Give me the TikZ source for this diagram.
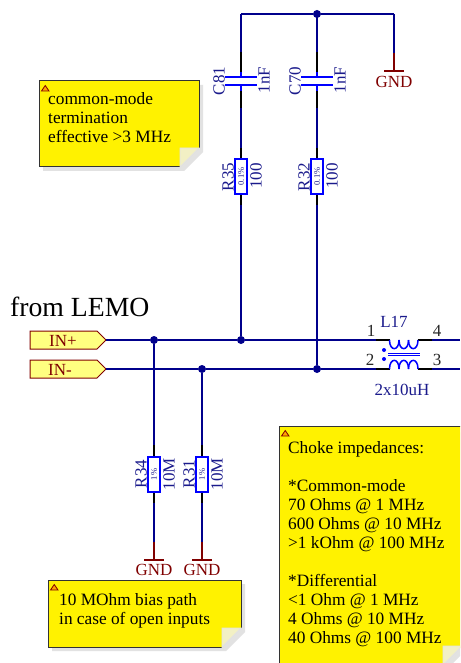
\documentclass[tikz,border=0pt]{standalone}
\usepackage{fontspec}
\setmainfont{Liberation Serif}
\definecolor{wirec}{HTML}{00008C}
\definecolor{compc}{HTML}{0000FF}
\definecolor{labc}{HTML}{1A1A8C}
\definecolor{gndc}{HTML}{800000}
\definecolor{portc}{HTML}{FFFF80}
\definecolor{foldc}{HTML}{F2F0C4}
\definecolor{shadc}{HTML}{E2E2E2}
\tikzset{
  wire/.style={draw=wirec,line width=1.7pt},
  pin/.style={draw=black,line width=1.7pt},
  stub/.style={draw=compc,line width=1.5pt},
  plate/.style={draw=compc,line width=1.8pt},
  gndw/.style={draw=gndc,line width=1.6pt},
  dot/.style={circle,fill=wirec,draw=none,inner sep=0pt,minimum size=8pt},
  res/.style={draw=compc,line width=1.9pt,fill=white,rectangle,inner sep=0pt,rotate=90,minimum width=35pt,minimum height=12pt,text=labc,font=\fontsize{8.5}{9}\selectfont},
  lab/.style={text=labc,font=\fontsize{17}{19}\selectfont,inner sep=0pt},
  vlab/.style={lab,rotate=90},
  pnum/.style={text=black!85,font=\fontsize{17}{19}\selectfont,inner sep=0pt},
  gndt/.style={text=gndc,font=\fontsize{17}{19}\selectfont,inner sep=0pt},
  port/.style={draw=gndc,fill=portc,line width=1pt},
  porttext/.style={text=gndc,font=\fontsize{17}{19}\selectfont,inner sep=0pt},
  notetext/.style={text=black,font=\fontsize{17.3}{19}\selectfont,inner sep=0pt,align=left,anchor=north west},
}
\newcommand{\notepaper}[4]{%
  \fill[shadc] (#1+4,#4) -- (#1+4,#4+4) -- (#3-15,#4+4) -- (#3+4,#4-15) -- (#3+4,#2+4) -- (#3,#2+4) -- cycle;
  \fill[yellow] (#1,#2) -- (#3,#2) -- (#3,#4-19) -- (#3-19,#4) -- (#1,#4) -- cycle;
  \draw[black!80,line width=1pt] (#3,#4-19) -- (#3,#2) -- (#1,#2) -- (#1,#4) -- (#3-19,#4);
  \fill[foldc,draw=shadc,line width=.8pt] (#3-19,#4) -- (#3-19,#4-19) -- (#3,#4-19) -- cycle;
  \draw[gndc,fill=orange!70!yellow,line width=.8pt] (#1+2.5,#2+10) -- (#1+10,#2+10) -- (#1+6.25,#2+4.5) -- cycle;
}
\begin{document}
\begin{tikzpicture}[x=1pt,y=-1pt]
\useasboundingbox (0,0) rectangle (460,663);
\clip (0,0) rectangle (460,663);
\fill[white] (0,0) rectangle (460,663);

% sticky notes
\notepaper{39}{81}{199}{167}
\notepaper{48}{580}{241}{647}
\notepaper{279}{426}{462}{665}
\node[notetext] (n1) at (48,92) {common-mode\\termination\\effective >3 MHz};
\node[notetext] (n2) at (59,593) {10 MOhm bias path\\in case of open inputs};
\node[notetext] (n3) at (288,441) {Choke impedances:\\[0pt]\mbox{}\\*Common-mode\\70 Ohms @ 1 MHz\\600 Ohms @ 10 MHz\\>1 kOhm @ 100 MHz\\\mbox{}\\*Differential\\<1 Ohm @ 1 MHz\\4 Ohms @ 10 MHz\\40 Ohms @ 100 MHz};

\node[text=black,font=\fontsize{27.7}{30}\selectfont,inner sep=0pt,anchor=base west] (lemo) at (10,316) {from LEMO};

% coordinates
\node[dot] (jtop) at (317,14) {};
\node[dot] (j1) at (154,340) {};
\node[dot] (j2) at (241,340) {};
\node[dot] (j3) at (202,369) {};
\node[dot] (j4) at (317,369) {};
\coordinate (tl) at (241,14);
\coordinate (tr) at (394,14);

% top rail
\draw[wire] (tl) -- (jtop) -- (tr);

% resistors (rotated: east anchor is the upper end)
\node[res] (R35) at (241,176.5) {0.1\%};
\node[res] (R32) at (317,176.5) {0.1\%};
\node[res] (R34) at (154,474.5) {1\%};
\node[res] (R31) at (202,474.5) {1\%};

% capacitor branches
\foreach \x/\c/\r in {241/81/35,317/70/32}{
  \coordinate (c\c a) at (\x,77);
  \coordinate (c\c b) at (\x,85);
  \draw[wire] (\x,14) -- (\x,52);
  \draw[pin] (\x,52) -- (\x,72);
  \draw[stub] (\x,72) -- (c\c a);
  \draw[plate] (\x-16,77) -- (\x+16,77);
  \draw[plate] (\x-16,85) -- (\x+16,85);
  \draw[stub] (c\c b) -- (\x,91);
  \draw[pin] (\x,91) -- (\x,108);
  \draw[wire] (\x,108) -- (\x,148);
  \draw[pin] (\x,148) -- (R\r.east);
  \draw[pin] (R\r.west) -- (\x,205);
}
\draw[wire] (241,205) -- (j2);
\draw[wire] (317,205) -- (j4);

% GND top
\draw[wire] (tr) -- (394,53);
\draw[gndw] (394,53) -- (394,71);
\draw[gndw] (384,71) -- (404,71);
\node[gndt] (g1) at (394,82) {GND};

% ports
\draw[port] (30,331) -- (97,331) -- (106,340) -- (97,349) -- (30,349) -- cycle;
\draw[port] (30,360) -- (97,360) -- (106,369) -- (97,378) -- (30,378) -- cycle;
\coordinate (pp) at (106,340);
\coordinate (pm) at (106,369);
\node[porttext,anchor=base] (ipt) at (63,346) {IN+};
\node[porttext,anchor=base] (imt) at (60,375) {IN-};

% signal wires
\draw[wire] (pp) -- (j1) -- (j2) -- (376,340);
\draw[wire] (pm) -- (j3) -- (j4) -- (376,369);
\draw[pin] (376,340) -- (390,340);
\draw[pin] (376,369) -- (390,369);
\draw[pin] (418,340) -- (432,340);
\draw[pin] (418,369) -- (432,369);
\draw[wire] (432,340) -- (460,340);
\draw[wire] (432,369) -- (460,369);

% choke
\foreach \i in {0,1,2}{
  \draw[stub] (389.5+\i*9.5,340) .. controls (389.5+\i*9.5,351.5) and (399+\i*9.5,351.5) .. (399+\i*9.5,340);
  \draw[stub] (389.5+\i*9.5,369) .. controls (389.5+\i*9.5,357.5) and (399+\i*9.5,357.5) .. (399+\i*9.5,369);
}
\draw[compc,line width=.8pt] (388,353) -- (420,353);
\draw[compc,line width=.8pt] (388,355.5) -- (420,355.5);
\fill[compc] (384,350) circle (2pt);
\fill[compc] (384,359) circle (2pt);
\node[lab] (l17) at (394,322) {L17};
\node[lab] (l17v) at (402,390) {2x10uH};
\node[pnum] (p1) at (371,331) {1};
\node[pnum] (p4) at (437,331) {4};
\node[pnum] (p2) at (370,360) {2};
\node[pnum] (p3) at (437,360) {3};

% bias resistors
\foreach \x/\r/\j/\g in {154/34/j1/g2,202/31/j3/g3}{
  \draw[wire] (\j) -- (\x,445);
  \draw[pin] (\x,445) -- (R\r.east);
  \draw[pin] (R\r.west) -- (\x,503);
  \draw[wire] (\x,503) -- (\x,542);
  \draw[gndw] (\x,542) -- (\x,560);
  \draw[gndw] (\x-10,560) -- (\x+10,560);
  \node[gndt] (\g) at (\x,570) {GND};
}

% component labels
\node[vlab] (t1) at (219,81) {C81};
\node[vlab] (t2) at (264,80) {1nF};
\node[vlab] (t3) at (295,81) {C70};
\node[vlab] (t4) at (340,80) {1nF};
\node[vlab] (t5) at (228,177) {R35};
\node[vlab] (t6) at (256,176) {100};
\node[vlab] (t7) at (304,177) {R32};
\node[vlab] (t8) at (332,176) {100};
\node[vlab] (t9) at (141,474) {R34};
\node[vlab] (t10) at (169,474) {10M};
\node[vlab] (t11) at (189,474) {R31};
\node[vlab] (t12) at (217,474) {10M};
\end{tikzpicture}
\end{document}
